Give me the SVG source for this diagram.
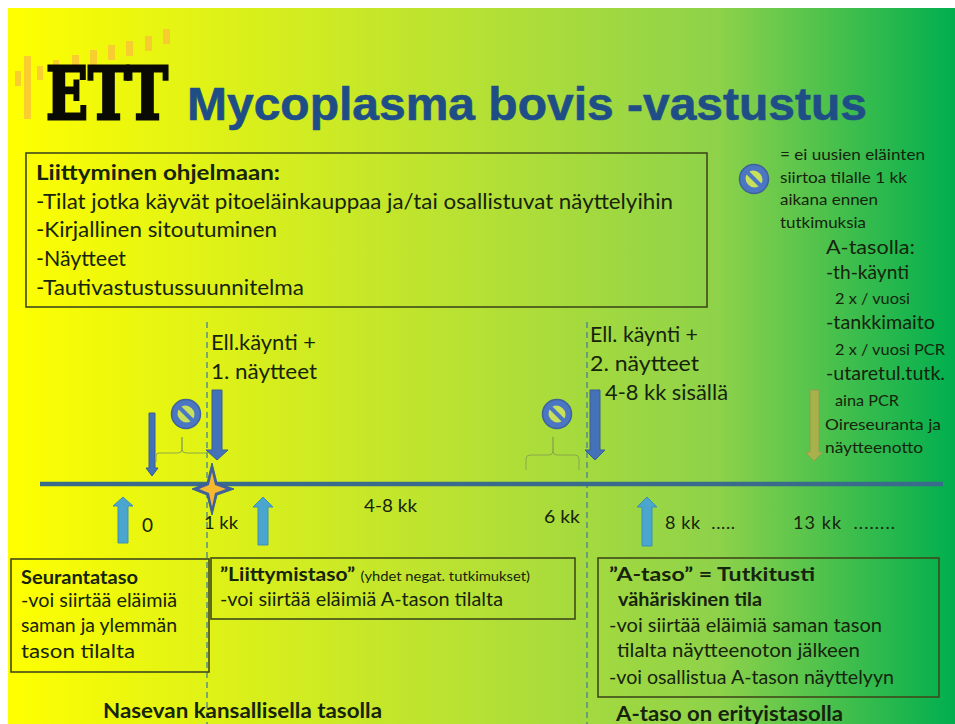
<svg xmlns="http://www.w3.org/2000/svg" width="955" height="724" viewBox="0 0 955 724">
<defs>
<linearGradient id="bg" x1="0" y1="0" x2="1" y2="0">
<stop offset="0" stop-color="#ffff00"/>
<stop offset="0.5" stop-color="#b5e035"/>
<stop offset="0.75" stop-color="#8ed24a"/>
<stop offset="1" stop-color="#00ae4f"/>
</linearGradient>
<g id="no">
<circle r="14.5" fill="#4a76c4" stroke="#3f6399" stroke-width="1.5"/>
<path d="M-8.500 -2 A9 9 0 0 1 8.500 -2 Z M-8.500 2 A9 9 0 0 0 8.500 2 Z" fill="#c9e05a" transform="rotate(45)"/>
</g>
</defs>
<style>
text{font-family:Lato,"Open Sans",sans-serif;fill:#16240c}
.b{font-weight:700}
.box{fill:none;stroke:#3f4a1a;stroke-width:1.6}
.dash{stroke:#4a7d9c;stroke-width:1.3;stroke-dasharray:6 4;fill:none}
.dn{fill:#4472b8;stroke:#3a5f92;stroke-width:1}
.up{fill:#4ba6cf;stroke:#3f8fb5;stroke-width:1}
.br{fill:none;stroke:#8aa84a;stroke-width:1}
</style>
<rect x="8" y="8" width="947" height="716" fill="url(#bg)"/>
<g id="logo">
<g fill="#f9c636" opacity="0.85">
<rect x="15" y="71" width="6" height="15"/><rect x="24" y="56" width="7" height="63"/><rect x="37" y="66" width="6" height="14"/>
<rect x="53" y="60" width="6" height="14"/><rect x="72" y="55" width="7" height="14"/><rect x="90" y="50" width="7" height="15"/>
<rect x="108" y="45" width="7" height="15"/><rect x="126" y="41" width="7" height="15"/><rect x="145" y="36" width="7" height="15"/><rect x="163" y="29" width="7" height="15"/>
</g>
<text x="46" y="119" style="font-family:'DejaVu Serif',serif;font-weight:700;fill:#0a0a05;stroke:#0a0a05;stroke-width:3;font-size:72px" textLength="122" lengthAdjust="spacingAndGlyphs">ETT</text>
</g>
<text id="title" x="187" y="120" style="font-family:'Liberation Sans',sans-serif;font-weight:700;fill:#1f4e87;stroke:#1f4e87;stroke-width:0.6;font-size:46px" textLength="680" lengthAdjust="spacingAndGlyphs">Mycoplasma bovis -vastustus</text>
<g id="join-box">
<rect class="box" x="26" y="153" width="681" height="154"/>
<text class="b" x="36" y="180" font-size="21" textLength="244" lengthAdjust="spacingAndGlyphs">Liittyminen ohjelmaan:</text>
<text x="36" y="209" font-size="21" textLength="637" lengthAdjust="spacingAndGlyphs">-Tilat jotka käyvät pitoeläinkauppaa ja/tai osallistuvat näyttelyihin</text>
<text x="36" y="237" font-size="21" textLength="241" lengthAdjust="spacingAndGlyphs">-Kirjallinen sitoutuminen</text>
<text x="36" y="266" font-size="21" textLength="90" lengthAdjust="spacingAndGlyphs">-Näytteet</text>
<text x="36" y="295" font-size="21" textLength="268" lengthAdjust="spacingAndGlyphs">-Tautivastustussuunnitelma</text>
</g>
<g id="legend">
<use href="#no" x="754" y="179"/>
<text x="780" y="160" font-size="16" textLength="145" lengthAdjust="spacingAndGlyphs">= ei uusien eläinten</text>
<text x="780" y="183" font-size="16" textLength="127" lengthAdjust="spacingAndGlyphs">siirtoa tilalle 1 kk</text>
<text x="780" y="205" font-size="16" textLength="98" lengthAdjust="spacingAndGlyphs">aikana ennen</text>
<text x="780" y="228" font-size="16" textLength="86" lengthAdjust="spacingAndGlyphs">tutkimuksia</text>
</g>
<g id="a-level-notes">
<text x="826" y="254" font-size="20" textLength="89" lengthAdjust="spacingAndGlyphs">A-tasolla:</text>
<text x="826" y="279" font-size="19" textLength="83" lengthAdjust="spacingAndGlyphs">-th-käynti</text>
<text x="835" y="304" font-size="16" textLength="75" lengthAdjust="spacingAndGlyphs">2 x / vuosi</text>
<text x="826" y="329" font-size="19" textLength="109" lengthAdjust="spacingAndGlyphs">-tankkimaito</text>
<text x="835" y="355" font-size="16" textLength="110" lengthAdjust="spacingAndGlyphs">2 x / vuosi PCR</text>
<text x="826" y="380" font-size="19" textLength="119" lengthAdjust="spacingAndGlyphs">-utaretul.tutk.</text>
<text x="835" y="406" font-size="16" textLength="64" lengthAdjust="spacingAndGlyphs">aina PCR</text>
<text x="825" y="430" font-size="16" textLength="116" lengthAdjust="spacingAndGlyphs">Oireseuranta ja</text>
<text x="825" y="453" font-size="16" textLength="98" lengthAdjust="spacingAndGlyphs">näytteenotto</text>
</g>
<g id="connectors">
<path class="dash" d="M207 322V724"/>
<path class="dash" d="M587 322V724"/>
<path d="M40 484H943" stroke="#3a6a8c" stroke-width="4.5" fill="none"/>
<path class="dn" d="M149 413h6v55h3l-6 8-6-8h3z"/>
<path class="dn" d="M212 390h10v60h6l-11 10-11-10h6z"/>
<path class="dn" d="M590 390h10v60h5l-10 10-10-10h5z"/>
<path d="M810 390h9v62h4l-9 9-9-9h5z" fill="#a8b14a" stroke="#8f9e4e" stroke-width="1"/>
<path class="up" d="M118 543v-37h-5l10-9 10 9h-5v37z"/>
<path class="up" d="M258 545v-38h-5l10-10 10 10h-5v38z"/>
<path class="up" d="M642 546v-39h-5l10-10 10 10h-5v39z"/>
<path class="br" d="M156 462v-6q0-3 3-3h19q4 0 4-4v-12 12q0 4 4 4h21"/>
<path class="br" d="M526 470v-11q0-4 4-4h19q4 0 4-4v-14 14q0 4 4 4h18q4 0 4 4v11"/>
<use href="#no" x="186" y="414"/>
<use href="#no" x="557" y="414"/>
</g>
<g id="star">
<path d="M212 463l5 20 17 6-17 6-5 20-5-20-15-6 15-6z" fill="#3f5f9e" stroke="#3a5f92" stroke-width="1" stroke-linejoin="round"/>
<path d="M212 472l3 13 11 4-11 4-3 14-3-14-10-4 10-4z" fill="#f5b82e"/>
</g>
<g id="visit1">
<text x="211" y="350" font-size="21" textLength="105" lengthAdjust="spacingAndGlyphs">Ell.käynti +</text>
<text x="211" y="379" font-size="21" textLength="106" lengthAdjust="spacingAndGlyphs">1. näytteet</text>
</g>
<g id="visit2">
<text x="590" y="342" font-size="21" textLength="108" lengthAdjust="spacingAndGlyphs">Ell. käynti +</text>
<text x="590" y="371" font-size="21" textLength="109" lengthAdjust="spacingAndGlyphs">2. näytteet</text>
<text x="605" y="400" font-size="21" textLength="123" lengthAdjust="spacingAndGlyphs">4-8 kk sisällä</text>
</g>
<g id="timeline-labels">
<text x="142" y="532" font-size="19">0</text>
<text x="204" y="529" font-size="18" textLength="34" lengthAdjust="spacingAndGlyphs">1 kk</text>
<text x="364" y="512" font-size="18" textLength="53" lengthAdjust="spacingAndGlyphs">4-8 kk</text>
<text x="544" y="523" font-size="18" textLength="36" lengthAdjust="spacingAndGlyphs">6 kk</text>
<text x="665" y="529" font-size="18" textLength="70" lengthAdjust="spacing" xml:space="preserve">8 kk  .....</text>
<text x="793" y="529" font-size="18" textLength="102" lengthAdjust="spacing" xml:space="preserve">13 kk  ........</text>
</g>
<g id="seuranta">
<rect class="box" x="11" y="559" width="198" height="113"/>
<text class="b" x="21" y="584" font-size="18.500" textLength="117" lengthAdjust="spacingAndGlyphs">Seurantataso</text>
<text x="21" y="607" font-size="18.500" textLength="156" lengthAdjust="spacingAndGlyphs">-voi siirtää eläimiä</text>
<text x="21" y="632" font-size="18.500" textLength="156" lengthAdjust="spacingAndGlyphs">saman ja ylemmän</text>
<text x="21" y="658" font-size="18.500" textLength="114" lengthAdjust="spacingAndGlyphs">tason tilalta</text>
</g>
<g id="liittymis">
<rect class="box" x="211" y="558" width="364" height="61"/>
<text x="220" y="581" font-size="18.500" textLength="310" lengthAdjust="spacingAndGlyphs"><tspan class="b">”Liittymistaso”</tspan> <tspan font-size="13">(yhdet negat. tutkimukset)</tspan></text>
<text x="220" y="606" font-size="18.500" textLength="283" lengthAdjust="spacingAndGlyphs">-voi siirtää eläimiä A-tason tilalta</text>
</g>
<g id="a-taso">
<rect class="box" x="598" y="558" width="341" height="139"/>
<text class="b" x="609" y="581" font-size="18.500" textLength="206" lengthAdjust="spacingAndGlyphs">”A-taso” = Tutkitusti</text>
<text class="b" x="618" y="606" font-size="18.500" textLength="144" lengthAdjust="spacingAndGlyphs">vähäriskinen tila</text>
<text x="609" y="632" font-size="18.500" textLength="273" lengthAdjust="spacingAndGlyphs">-voi siirtää eläimiä saman tason</text>
<text x="617" y="657" font-size="18.500" textLength="243" lengthAdjust="spacingAndGlyphs">tilalta näytteenoton jälkeen</text>
<text x="609" y="684" font-size="18.500" textLength="285" lengthAdjust="spacingAndGlyphs">-voi osallistua A-tason näyttelyyn</text>
</g>
<text class="b" x="103" y="718" font-size="20" textLength="279" lengthAdjust="spacingAndGlyphs">Nasevan kansallisella tasolla</text>
<text class="b" x="616" y="721" font-size="20" textLength="227" lengthAdjust="spacingAndGlyphs">A-taso on erityistasolla</text>
</svg>
